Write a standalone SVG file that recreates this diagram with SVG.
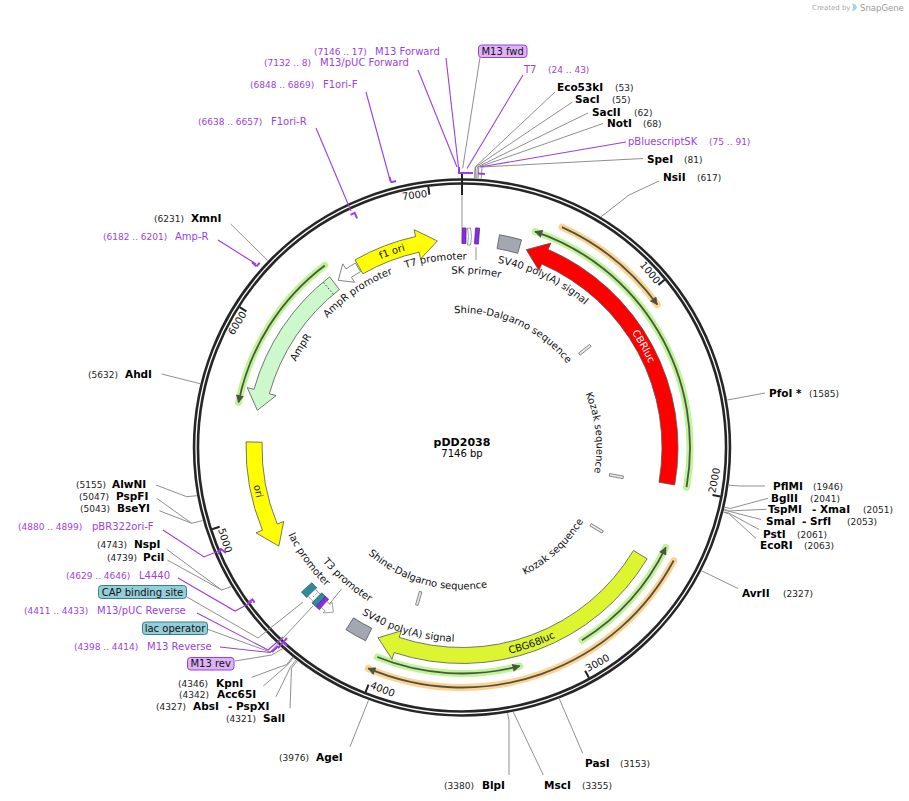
<svg xmlns="http://www.w3.org/2000/svg" width="909" height="801" viewBox="0 0 909 801">
<style>
text{font-family:"DejaVu Sans","Verdana",sans-serif;}
.en{font-size:10.5px;font-weight:bold;fill:#000;}
.num{font-size:9px;fill:#222;}
.pr{font-size:10px;fill:#9b3fe0;}
.prn{font-size:9px;fill:#9b3fe0;}
.fl{font-size:10px;fill:#111;}
.tk{font-size:10px;fill:#111;}
.ln{fill:none;stroke:#8f8f8f;stroke-width:1;}
.pl{fill:none;stroke:#9b3fe0;stroke-width:1.1;}
.pm{fill:none;stroke:#9b3fe0;stroke-width:2;}
.band{stroke:#555;stroke-width:0.8;}
.glg{fill:none;stroke:#b9f48f;stroke-width:7;stroke-linecap:round;opacity:0.95;}
.glo{fill:none;stroke:#ffd08c;stroke-width:7;stroke-linecap:round;opacity:0.95;}
.orf{fill:none;stroke:#4d5542;stroke-width:1.8;marker-end:url(#ah);}
.tick{stroke:#222;stroke-width:2;}
.sm{fill:#e8e8e8;stroke:#666;stroke-width:0.7;}
</style>
<defs>
<marker id="ah" viewBox="0 0 10 10" refX="9" refY="5" markerWidth="9" markerHeight="8" markerUnits="userSpaceOnUse" orient="auto"><path d="M0,0 L10,5 L0,10 z" fill="#4d5542"/></marker>
<path id="T1" d="M462,652.5 A205,205 0 1 1 462,242.5 A205,205 0 1 1 462,652.5"/>
<path id="T2" d="M462,634.5 A187,187 0 1 1 462,260.5 A187,187 0 1 1 462,634.5"/>
<path id="T2b" d="M462,635.5 A188,188 0 1 1 462,259.5 A188,188 0 1 1 462,635.5"/>
<path id="T3" d="M462,621.5 A174,174 0 1 1 462,273.5 A174,174 0 1 1 462,621.5"/>
<path id="T4" d="M462,582 A134.5,134.5 0 1 1 462,313 A134.5,134.5 0 1 1 462,582"/>
<path id="F1" d="M462,235.9 A211.6,211.6 0 1 0 462,659.1 A211.6,211.6 0 1 0 462,235.9"/>
<path id="F2" d="M462,253 A194.5,194.5 0 1 0 462,642 A194.5,194.5 0 1 0 462,253"/>
<path id="F3" d="M462,267.5 A180,180 0 1 0 462,627.5 A180,180 0 1 0 462,267.5"/>
<path id="F4" d="M462,305.5 A142,142 0 1 0 462,589.5 A142,142 0 1 0 462,305.5"/>
</defs>
<rect width="909" height="801" fill="#fff"/>

<g id="watermark">
<text x="812" y="10" style="font-size:7px;fill:#aaa">Created by</text>
<path d="M852,3 q4,1 5,4 q-1,4 -5,4 q2,-4 0,-8z" fill="#9fd6ee"/>
<text x="860" y="10.5" style="font-size:8.5px;fill:#999">SnapGene</text>
</g>

<g id="backbone">
<circle cx="462" cy="447.5" r="266" fill="none" stroke="#262626" stroke-width="6.5"/>
<circle cx="462" cy="447.5" r="266" fill="none" stroke="#fff" stroke-width="1.3"/>
<g class="tick">
<line x1="462" y1="184.5" x2="462" y2="192.5" transform="rotate(50.378 462 447.5)"/>
<line x1="462" y1="184.5" x2="462" y2="192.5" transform="rotate(100.756 462 447.5)"/>
<line x1="462" y1="184.5" x2="462" y2="192.5" transform="rotate(151.133 462 447.5)"/>
<line x1="462" y1="184.5" x2="462" y2="192.5" transform="rotate(201.511 462 447.5)"/>
<line x1="462" y1="184.5" x2="462" y2="192.5" transform="rotate(251.889 462 447.5)"/>
<line x1="462" y1="184.5" x2="462" y2="192.5" transform="rotate(302.267 462 447.5)"/>
<line x1="462" y1="184.5" x2="462" y2="192.5" transform="rotate(352.645 462 447.5)"/>
<line x1="462" y1="173" x2="462" y2="195"/>
</g>
<g class="tk">
<text x="460" y="194.5" text-anchor="end" transform="rotate(50.378 462 447.5)">1000</text>
<text x="464" y="705" transform="rotate(-79.244 462 447.5)">2000</text>
<text x="464" y="705" transform="rotate(-28.867 462 447.5)">3000</text>
<text x="464" y="705" transform="rotate(21.511 462 447.5)">4000</text>
<text x="464" y="705" transform="rotate(71.889 462 447.5)">5000</text>
<text x="460" y="194.5" text-anchor="end" transform="rotate(-57.733 462 447.5)">6000</text>
<text x="460" y="194.5" text-anchor="end" transform="rotate(-7.355 462 447.5)">7000</text>
</g>
</g>

<g id="center-title">
<text x="462" y="446" text-anchor="middle" style="font-size:11px;font-weight:bold">pDD2038</text>
<text x="462" y="457" text-anchor="middle" style="font-size:10px">7146 bp</text>
</g>

<g id="connectors">
<line class="ln" x1="462" y1="195" x2="462" y2="228"/>
<line class="ln" x1="476" y1="247" x2="476" y2="260"/>
<polyline class="ln" points="341.5,589 327,607"/>
<polyline class="ln" points="480,57.5 462.7,168.3"/>
<polyline class="ln" points="555,92 475.1,167 474.5,178.3"/>
<polyline class="ln" points="572.5,102 475.6,167 475,178.3"/>
<polyline class="ln" points="588,113 477.3,167 476.7,178.3"/>
<polyline class="ln" points="603,123.5 478.8,167 478.1,178.3"/>
<polyline class="ln" points="643,158.5 482,167 481.2,178.7"/>
<polyline class="ln" points="659,181 629,195 601.1,216.7"/>
<polyline class="ln" points="765,393 727.3,400"/>
<polyline class="ln" points="765,486 740,486 728.9,485.2"/>
<polyline class="ln" points="768,498.3 730.2,508.5 724.8,507.3"/>
<polyline class="ln" points="766.5,509.3 729.6,510.9 724.2,509.6"/>
<polyline class="ln" points="761,519.5 729.5,511.4 724.1,510.1"/>
<polyline class="ln" points="759,529.5 729,513.2 723.7,511.9"/>
<polyline class="ln" points="756,538.5 728.9,513.7 723.6,512.4"/>
<polyline class="ln" points="738,588.5 701.6,570.8"/>
<polyline class="ln" points="582.7,753.3 559.3,698.8"/>
<polyline class="ln" points="543.3,775 513.3,712.1"/>
<polyline class="ln" points="509,775 509,720 507.5,713.1"/>
<polyline class="ln" points="350,746.7 368.5,700.3"/>
<polyline class="ln" points="290,708.3 291.5,668.3 297.3,660.8"/>
<polyline class="ln" points="276,696.7 290.3,667.4 296.2,659.9"/>
<polyline class="ln" points="263.3,686 287.4,665.1 293.4,657.7"/>
<polyline class="ln" points="251.7,677.3 286.7,664.5 292.6,657.1"/>
<polyline class="ln" points="235,661 271.7,655 283.3,648.3"/>
<polyline class="ln" points="207,629 270,652 313,606"/>
<polyline class="ln" points="187,597 258,638 303,602"/>
<polyline class="ln" points="167.3,560 221.7,590 231.2,586.6"/>
<polyline class="ln" points="166.7,549.3 221.7,590"/>
<polyline class="ln" points="159.3,510.7 191.7,523.3 202.6,520.6"/>
<polyline class="ln" points="156.7,498.3 191.7,523.3"/>
<polyline class="ln" points="156,485 186.7,496.7 196.8,495.7"/>
<polyline class="ln" points="161.7,374 200.2,383.7"/>
<polyline class="ln" points="230.7,224 267.8,260.6"/>
<polyline class="pl" points="446,58 458.5,167.5"/>
<polyline class="pl" points="418,70 457,167"/>
<polyline class="pl" points="366,92 390,180"/>
<polyline class="pl" points="316,128 351,211"/>
<polyline class="pl" points="523,75 467,168.5"/>
<polyline class="pl" points="626,142 480,167"/>
<polyline class="pl" points="218,240 256,264"/>
<polyline class="pl" points="163,530 204,557 221,550"/>
<polyline class="pl" points="178,578 235,611 252,602"/>
<polyline class="pl" points="197,613 268,650 283,637"/>
<polyline class="pl" points="220,647 270,652.5 277,648"/>
</g>

<g id="primer-marks">
<path class="pm" d="M458,173 L473,173 M459,173 L459,167"/>
<path class="pm" d="M478,173.5 L485,174"/>
<path class="pm" d="M390.95,182.35 L396.06,181.03 M390.95,182.35 L389.53,177.05"/>
<path class="pm" d="M256.47,266.3 L259.66,262.74 M256.47,266.3 L251.97,262.33"/>
<path class="pm" d="M350.52,214.83 L354.6,212.92 L357.1,218.37"/>
<path class="pm" d="M254.61,602.65 L252.24,599.43 L248,603"/>
<path class="pm" d="M226,553 L221,549 L218,554"/>
<path class="pm" d="M278,648 L287,638 M283,642 L287,646"/>
<path class="pm" d="M272,652 L278,646"/>
</g>

<g id="orf-lines">
<path class="glo" d="M561.97,227.12 A242,242 0 0 1 657.28,304.57"/>
<path class="orf" d="M561.97,227.12 A242,242 0 0 1 657.28,304.57"/>
<path class="glo" d="M673.71,560.54 A240,240 0 0 1 368.22,668.42"/>
<path class="orf" d="M673.71,560.54 A240,240 0 0 1 368.22,668.42"/>
<path class="glg" d="M686.54,487.09 A228,228 0 0 0 535.10,231.54"/>
<path class="orf" d="M686.54,487.09 A228,228 0 0 0 535.10,231.54"/>
<path class="glg" d="M324.79,265.41 A228,228 0 0 0 238.50,402.43"/>
<path class="orf" d="M324.79,265.41 A228,228 0 0 0 238.50,402.43"/>
<path class="glg" d="M581.96,640.22 A227,227 0 0 0 665.85,547.37"/>
<path class="orf" d="M581.96,640.22 A227,227 0 0 0 665.85,547.37"/>
<path class="glg" d="M377.34,657.04 A226,226 0 0 0 519.73,666.00"/>
<path class="orf" d="M377.34,657.04 A226,226 0 0 0 519.73,666.00"/>
</g>

<g id="CBRluc">
<path class="band" fill="#ff0000" d="M674.72,485.01 A216,216 0 0 0 548.13,249.42 L550.92,243.00 L526.28,249.68 L538.96,270.50 L541.75,264.09 A200,200 0 0 1 658.96,482.23 Z"/>
<text class="fl" style="fill:#fff"><textPath href="#T1" startOffset="861.4" text-anchor="middle">CBRluc</textPath></text>
</g>
<g id="CBG68luc">
<path class="band" fill="#ddf531" d="M647.15,558.75 A216,216 0 0 1 394.18,652.58 L391.98,659.22 L378.06,637.81 L401.40,630.74 L399.20,637.39 A200,200 0 0 0 633.43,550.51 Z"/>
<text class="fl"><textPath href="#F1" startOffset="736.95" text-anchor="middle">CBG68luc</textPath></text>
</g>
<g id="f1-ori">
<path class="band" fill="#ffff00" d="M354.98,259.88 A216,216 0 0 1 415.62,236.54 L414.11,229.70 L437.37,240.96 L420.56,259.00 L419.05,252.17 A200,200 0 0 0 362.91,273.77 Z"/>
<text class="fl"><textPath href="#T1" startOffset="573.4" text-anchor="middle">f1 ori</textPath></text>
</g>
<g id="ori">
<path class="band" fill="#ffff00" d="M246.07,441.85 A216,216 0 0 0 262.44,530.16 L255.97,532.84 L278.86,546.11 L283.69,521.36 L277.22,524.04 A200,200 0 0 1 262.07,442.26 Z"/>
<text class="fl"><textPath href="#F1" startOffset="377.1" text-anchor="middle">ori</textPath></text>
</g>
<g id="AmpR">
<path class="band" fill="#ccf8cc" stroke="#777" d="M329.61,276.83 A216,216 0 0 0 253.96,389.41 L247.22,387.53 L257.35,410.31 L276.11,395.60 L269.37,393.72 A200,200 0 0 1 339.42,289.47 Z"/>
<line x1="333.44" y1="294.29" x2="323.16" y2="282.04" stroke="#333" stroke-width="1" stroke-dasharray="1.5,2"/>
<text class="fl"><textPath href="#T2" startOffset="397.5" text-anchor="middle">AmpR</textPath></text>
</g>
<g id="AmpR-promoter">
<path fill="#fff" stroke="#777" stroke-width="0.9" d="M355.5,263.04 A213,213 0 0 0 345.99,268.86 L342.72,263.83 L338.28,280.30 L354.71,282.28 L351.44,277.25 A203,203 0 0 1 360.5,271.70 Z"/>
<text class="fl"><textPath href="#T2" startOffset="476.5" text-anchor="middle">AmpR promoter</textPath></text>
</g>
<g id="SV40-top">
<path fill="#a3a7b1" stroke="#555" stroke-width="0.8" d="M499.51,234.78 A216,216 0 0 1 521.54,239.87 L517.68,253.33 A202,202 0 0 0 497.08,248.57 Z"/>
<text class="fl"><textPath href="#T2b" startOffset="675" text-anchor="middle">SV40 poly(A) signal</textPath></text>
</g>
<g id="SV40-bottom">
<path fill="#a3a7b1" stroke="#555" stroke-width="0.8" d="M365.62,640.80 A216,216 0 0 1 345.94,629.67 L353.47,617.86 A202,202 0 0 0 371.87,628.28 Z"/>
<text class="fl"><textPath href="#F2" startOffset="554" text-anchor="middle">SV40 poly(A) signal</textPath></text>
</g>
<g id="T7-promoter">
<rect x="462" y="228" width="4" height="15.5" fill="#8b2be2" stroke="#4a1a7a" stroke-width="0.7" transform="rotate(0.7 464 236)"/>
<path d="M467.5,228 L470.5,228 L471.5,236.5 L470.5,245 L467.5,245 L468.5,236.5 Z" fill="#fff" stroke="#777" stroke-width="0.7"/>
<text class="fl"><textPath href="#T2b" startOffset="564" text-anchor="middle">T7 promoter</textPath></text>
</g>
<g id="SK-primer">
<rect x="475" y="228" width="4" height="16" fill="#8b2be2" stroke="#4a1a7a" stroke-width="0.7" transform="rotate(4 477 236)"/>
<text class="fl"><textPath href="#T3" startOffset="560.5" text-anchor="middle">SK primer</textPath></text>
</g>
<g id="CAP-binding-site">
<path fill="#2d8c9e" stroke="#234" stroke-width="0.6" d="M306.62,597.55 A216,216 0 0 1 301.48,592.03 L311.89,582.66 A202,202 0 0 0 316.69,587.82 Z"/>
</g>
<g id="lac-promoter">
<path fill="#fff" stroke="#777" stroke-width="0.7" d="M314.69,602.73 A214,214 0 0 1 308.06,596.16 L315.25,589.21 A204,204 0 0 0 321.58,595.48 Z"/>
<line x1="313" y1="597" x2="318" y2="592" stroke="#333" stroke-width="0.8" stroke-dasharray="1,1.5"/>
<text class="fl"><textPath href="#F2" startOffset="428" text-anchor="middle">lac promoter</textPath></text>
</g>
<g id="lac-operator">
<path fill="#2d8c9e" stroke="#234" stroke-width="0.6" d="M316.07,606.75 A216,216 0 0 1 311.95,602.88 L321.68,592.81 A202,202 0 0 0 325.53,596.43 Z"/>
</g>
<g id="M13-rev-site">
<path fill="#8b2be2" stroke="#4a1a7a" stroke-width="0.6" d="M319.45,609.78 A216,216 0 0 1 316.07,606.75 L325.53,596.43 A202,202 0 0 0 328.69,599.26 Z"/>
</g>
<g id="T3-promoter">
<path fill="#fff" stroke="#777" stroke-width="0.7" d="M321.43,607.53 L325.09,610.67 L323.16,612.96 L333.33,612.19 L332.16,602.24 L330.23,604.54 L326.71,601.52 Z"/>
<text class="fl"><textPath href="#F3" startOffset="437" text-anchor="middle">T3 promoter</textPath></text>
</g>
<g id="Shine-Dalgarno-1">
<rect class="sm" x="-1.3" y="-7" width="2.6" height="14" transform="translate(584.87 349.77) rotate(51.5)"/>
<text class="fl"><textPath href="#T4" startOffset="478.9" text-anchor="middle">Shine-Dalgarno sequence</textPath></text>
</g>
<g id="Kozak-1">
<rect class="sm" x="-1.3" y="-7" width="2.6" height="14" transform="translate(616.37 476.11) rotate(100.5)"/>
<text class="fl"><textPath href="#T4" startOffset="618.6" text-anchor="middle">Kozak sequence</textPath></text>
</g>
<g id="Kozak-2">
<rect class="sm" x="-1.3" y="-7" width="2.6" height="14" transform="translate(596.58 528.36) rotate(121)"/>
<text class="fl"><textPath href="#F4" startOffset="551.4" text-anchor="middle">Kozak sequence</textPath></text>
</g>
<g id="Shine-Dalgarno-2">
<rect class="sm" x="-1.3" y="-7" width="2.6" height="14" transform="translate(418.72 598.42) rotate(196)"/>
<text class="fl"><textPath href="#F4" startOffset="407.6" text-anchor="middle">Shine-Dalgarno sequence</textPath></text>
</g>

<g id="enzymes">
<text class="en" x="557" y="91">Eco53kI</text><text class="num" x="615" y="91">(53)</text>
<text class="en" x="575" y="103">SacI</text><text class="num" x="612" y="103">(55)</text>
<text class="en" x="592" y="115.5">SacII</text><text class="num" x="634" y="115.5">(62)</text>
<text class="en" x="607" y="127">NotI</text><text class="num" x="643" y="127">(68)</text>
<text class="en" x="647" y="163">SpeI</text><text class="num" x="684" y="163">(81)</text>
<text class="en" x="663" y="181">NsiI</text><text class="num" x="697" y="181">(617)</text>
<text class="en" x="769" y="397">PfoI *</text><text class="num" x="809" y="397">(1585)</text>
<text class="en" x="773" y="490">PflMI</text><text class="num" x="813" y="490">(1946)</text>
<text class="en" x="771" y="502">BglII</text><text class="num" x="810" y="502">(2041)</text>
<text class="en" x="768" y="513">TspMI</text><text class="en" x="812" y="513">- XmaI</text><text class="num" x="863" y="513">(2051)</text>
<text class="en" x="766" y="525">SmaI</text><text class="en" x="802" y="525">- SrfI</text><text class="num" x="847" y="525">(2053)</text>
<text class="en" x="763" y="537.5">PstI</text><text class="num" x="797" y="537.5">(2061)</text>
<text class="en" x="760" y="549">EcoRI</text><text class="num" x="804" y="549">(2063)</text>
<text class="en" x="742" y="597">AvrII</text><text class="num" x="783" y="597">(2327)</text>
<text class="en" x="585" y="767">PasI</text><text class="num" x="620" y="767">(3153)</text>
<text class="en" x="544" y="789">MscI</text><text class="num" x="582" y="789">(3355)</text>
<text class="num" x="444" y="789">(3380)</text><text class="en" x="482" y="789">BlpI</text>
<text class="num" x="279" y="761">(3976)</text><text class="en" x="316" y="761">AgeI</text>
<text class="num" x="226" y="722">(4321)</text><text class="en" x="263" y="722">SalI</text>
<text class="num" x="156" y="710">(4327)</text><text class="en" x="193" y="710">AbsI</text><text class="en" x="228" y="710">- PspXI</text>
<text class="num" x="179" y="698">(4342)</text><text class="en" x="217" y="698">Acc65I</text>
<text class="num" x="178" y="686.5">(4346)</text><text class="en" x="216" y="686.5">KpnI</text>
<text class="num" x="107" y="560.5">(4739)</text><text class="en" x="143" y="560.5">PciI</text>
<text class="num" x="97" y="548">(4743)</text><text class="en" x="134" y="548">NspI</text>
<text class="num" x="80" y="511.5">(5043)</text><text class="en" x="117" y="511.5">BseYI</text>
<text class="num" x="79" y="500">(5047)</text><text class="en" x="116" y="500">PspFI</text>
<text class="num" x="76" y="488">(5155)</text><text class="en" x="112" y="488">AlwNI</text>
<text class="num" x="88" y="377.5">(5632)</text><text class="en" x="125" y="377.5">AhdI</text>
<text class="num" x="154" y="221.5">(6231)</text><text class="en" x="191" y="221.5">XmnI</text>
</g>

<g id="primers">
<text class="prn" x="314" y="54.5">(7146 .. 17)</text><text class="pr" x="375" y="54.5">M13 Forward</text>
<text class="prn" x="264" y="66">(7132 .. 8)</text><text class="pr" x="320" y="66">M13/pUC Forward</text>
<text class="prn" x="250" y="88">(6848 .. 6869)</text><text class="pr" x="323" y="88">F1ori-F</text>
<text class="prn" x="198" y="124.5">(6638 .. 6657)</text><text class="pr" x="271" y="124.5">F1ori-R</text>
<text class="pr" x="524" y="73">T7</text><text class="prn" x="548" y="73">(24 .. 43)</text>
<text class="pr" x="628" y="145">pBluescriptSK</text><text class="prn" x="709" y="145">(75 .. 91)</text>
<text class="prn" x="103" y="240">(6182 .. 6201)</text><text class="pr" x="175" y="240">Amp-R</text>
<text class="prn" x="18" y="530">(4880 .. 4899)</text><text class="pr" x="92" y="530">pBR322ori-F</text>
<text class="prn" x="66" y="578.5">(4629 .. 4646)</text><text class="pr" x="139" y="578.5">L4440</text>
<text class="prn" x="24" y="613.5">(4411 .. 4433)</text><text class="pr" x="97" y="613.5">M13/pUC Reverse</text>
<text class="prn" x="74" y="650">(4398 .. 4414)</text><text class="pr" x="147" y="650">M13 Reverse</text>
</g>

<g id="label-boxes">
<rect x="478.5" y="45" width="48.5" height="12.5" rx="3" fill="#deb3f5" stroke="#9b3fe0" stroke-width="1"/>
<text class="fl" x="502.7" y="54.9" text-anchor="middle">M13 fwd</text>
<rect x="98.5" y="585.5" width="88" height="13" rx="3" fill="#94cfd9" stroke="#3b7f8c" stroke-width="1"/>
<text class="fl" x="142.5" y="595.6" text-anchor="middle">CAP binding site</text>
<rect x="142.5" y="622" width="65" height="12.5" rx="3" fill="#94cfd9" stroke="#3b7f8c" stroke-width="1"/>
<text class="fl" x="175" y="631.9" text-anchor="middle">lac operator</text>
<rect x="187.5" y="657.5" width="46.5" height="12.5" rx="3" fill="#deb3f5" stroke="#9b3fe0" stroke-width="1"/>
<text class="fl" x="210.7" y="667.4" text-anchor="middle">M13 rev</text>
</g>
</svg>
